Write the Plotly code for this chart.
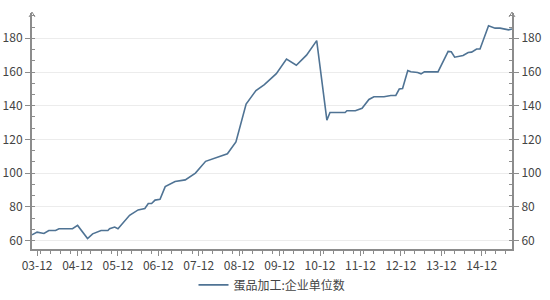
import plotly.graph_objects as go

# Data (date, value)
dates = [
    "2003-10-16", "2003-12-01", "2004-02-01", "2004-03-16", "2004-05-16", "2004-06-16",
    "2004-10-16", "2004-12-01", "2005-03-01", "2005-04-16", "2005-07-01", "2005-09-01",
    "2005-09-16", "2005-11-01", "2005-12-01", "2006-02-01", "2006-03-16", "2006-06-01",
    "2006-08-01", "2006-09-01", "2006-10-01", "2006-11-01", "2006-12-16", "2007-02-01",
    "2007-05-01", "2007-08-01", "2007-11-01", "2008-02-01", "2008-08-16", "2008-11-01",
    "2009-02-01", "2009-05-01", "2009-07-16", "2009-11-01", "2010-02-01", "2010-05-01",
    "2010-08-01", "2010-11-01", "2011-02-01", "2011-03-01", "2011-07-16", "2011-08-01",
    "2011-10-16", "2011-12-16", "2012-02-16", "2012-04-01", "2012-07-01", "2012-09-01",
    "2012-10-16", "2012-11-16", "2012-12-16", "2013-02-01", "2013-03-01", "2013-05-01",
    "2013-06-01", "2013-07-01", "2013-11-01", "2014-02-01", "2014-03-01", "2014-04-01",
    "2014-05-16", "2014-06-16", "2014-08-01", "2014-09-01", "2014-10-16", "2014-11-16",
    "2015-02-01", "2015-04-01", "2015-05-16", "2015-08-01", "2015-09-01",
]
values = [
    63.4, 65.0, 64.2, 66.0, 66.0, 67.0,
    67.0, 69.0, 61.2, 64.0, 66.0, 66.0,
    67.0, 68.0, 67.0, 72.0, 75.0, 78.2,
    79.0, 82.0, 82.0, 84.0, 84.5, 92.0,
    95.0, 96.0, 100.0, 107.0, 111.5, 118.5,
    141.0, 149.0, 152.5, 159.0, 167.7, 164.0,
    170.0, 178.6, 131.4, 136.0, 136.0, 137.0,
    137.0, 138.5, 143.7, 145.3, 145.3, 146.1,
    146.1, 149.9, 150.2, 160.9, 160.1, 159.7,
    158.9, 160.1, 160.1, 172.2, 172.0, 168.8,
    169.6, 169.8, 171.6, 171.8, 173.6, 173.6,
    187.4, 186.0, 186.0, 185.0, 185.5,
]
series_name = "蛋品加工:企业单位数"
y_ticks = [60, 80, 100, 120, 140, 160, 180]

FONT = "Noto Sans CJK SC"
AXIS_COLOR = "#8c8c8c"
LINE_COLOR = "#4f7394"

fig = go.Figure()
fig.add_trace(go.Scatter(
    x=dates, y=values, mode="lines", name=series_name,
    line=dict(color=LINE_COLOR, width=1.6),
))
fig.add_trace(go.Scatter(
    x=dates, y=values, mode="lines", yaxis="y2", showlegend=False,
    line=dict(color="rgba(0,0,0,0)", width=0), hoverinfo="skip",
))

yaxis_common = dict(
    range=[55, 195], tickvals=y_ticks, showline=True, linecolor=AXIS_COLOR, linewidth=2,
    ticks="outside", ticklen=5, tickcolor=AXIS_COLOR, tickwidth=1,
    tickfont=dict(family=FONT, size=12, color="#444"),
    minor=dict(dtick=20/3, tick0=60, ticks="inside", ticklen=3, tickcolor=AXIS_COLOR, showgrid=False),
    zeroline=False, automargin=False,
)

fig.update_layout(
    width=550, height=300,
    margin=dict(l=32, r=38, t=13, b=51, autoexpand=False),
    paper_bgcolor="white", plot_bgcolor="white",
    font=dict(family=FONT, size=12, color="#444"),
    xaxis=dict(
        type="date", range=["2003-10-16", "2015-09-01"],
        tick0="2003-12-01", dtick="M12", tickformat="%y-%m",
        showline=True, linecolor=AXIS_COLOR, linewidth=2,
        ticks="outside", ticklen=5, tickcolor=AXIS_COLOR,
        minor=dict(dtick="M3", ticks="outside", ticklen=3, tickcolor=AXIS_COLOR, showgrid=False),
        showgrid=False, zeroline=False, automargin=False,
        tickfont=dict(family=FONT, size=12, color="#444"),
    ),
    yaxis=dict(**yaxis_common, showgrid=True, gridcolor="#ececec", gridwidth=1, side="left"),
    yaxis2=dict(**yaxis_common, showgrid=False, side="right", overlaying="y"),
    showlegend=True,
    legend=dict(orientation="h", x=0.5, xanchor="center", y=-0.152, yanchor="middle",
                bgcolor="rgba(0,0,0,0)",
                font=dict(family=FONT, size=12, color="#444")),
)

# Arrowheads on top of the y-axes
for xpos in (0, 1):
    fig.add_shape(type="path", xref="paper", yref="paper", xsizemode="pixel", ysizemode="pixel",
                  xanchor=xpos, yanchor=1, path="M-3,-4 L0,1 L3,-4",
                  line=dict(color=AXIS_COLOR, width=1))

fig.write_html("out.html")
